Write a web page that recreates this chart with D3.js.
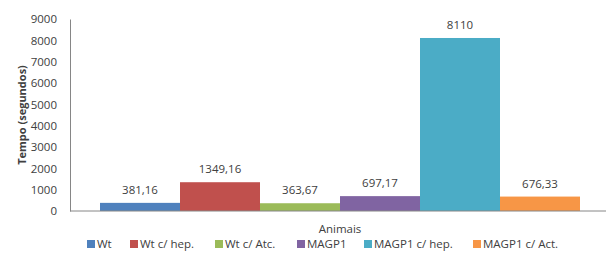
<!DOCTYPE html>
<html>
<head>
<meta charset="utf-8">
<script src="https://cdn.jsdelivr.net/npm/d3@7"></script>
<style>
  body { margin: 0; background: #fff; }
  text { font-family: "Open Sans", sans-serif; fill: #404040; }
</style>
</head>
<body>
<svg width="606" height="254"></svg>
<script>
// data
const series = ["Wt", "Wt c/ hep.", "Wt c/ Atc.", "MAGP1", "MAGP1 c/ hep.", "MAGP1 c/ Act."];
const values = [381.16, 1349.16, 363.67, 697.17, 8110, 676.33];
const valueLabels = ["381,16", "1349,16", "363,67", "697,17", "8110", "676,33"];
const yTicks = [0, 1000, 2000, 3000, 4000, 5000, 6000, 7000, 8000, 9000];
const colors = ["#4F81BD", "#C0504D", "#9BBB59", "#8064A2", "#4BACC6", "#F79646"];

const svg = d3.select("svg");
const margin = { left: 70, right: -4, top: 19, bottom: 43 };
const width = +svg.attr("width"), height = +svg.attr("height");
const plotW = width - margin.left - margin.right,
      plotH = height - margin.top - margin.bottom;

const g = svg.append("g").attr("transform", `translate(${margin.left},${margin.top})`);

const x = d3.scaleBand()
  .domain(series)
  .range([0, plotW])
  .paddingInner(0)
  .paddingOuter(0.375);

const y = d3.scaleLinear().domain([0, 9000]).range([plotH, 0]);

const color = d3.scaleOrdinal().domain(series).range(colors);

// y axis
const yAxis = g.append("g")
  .call(d3.axisLeft(y).tickValues(yTicks).tickSize(0).tickPadding(13).tickFormat(d3.format("d")));
yAxis.select(".domain").attr("stroke", "#868686");
yAxis.selectAll("text").style("font-size", "11.5px").attr("fill", "#404040");

// bars
g.selectAll("rect.bar")
  .data(values)
  .enter().append("rect")
  .attr("class", "bar")
  .attr("x", (d, i) => x(series[i]))
  .attr("width", x.bandwidth())
  .attr("y", d => y(d))
  .attr("height", d => plotH - y(d))
  .attr("fill", (d, i) => color(series[i]));

// x axis line
g.append("line")
  .attr("x1", 0).attr("x2", plotW)
  .attr("y1", plotH).attr("y2", plotH)
  .attr("stroke", "#868686");

// value labels
g.selectAll("text.val")
  .data(values)
  .enter().append("text")
  .attr("class", "val")
  .attr("x", (d, i) => x(series[i]) + x.bandwidth() / 2)
  .attr("y", d => y(d) - 9)
  .attr("text-anchor", "middle")
  .style("font-size", "11.5px")
  .text((d, i) => valueLabels[i]);

// axis titles
g.append("text")
  .attr("transform", `translate(-48,${plotH / 2}) rotate(-90)`)
  .attr("text-anchor", "middle")
  .attr("dy", "0.35em")
  .style("font-size", "11px")
  .style("font-weight", "bold")
  .text("Tempo (segundos)");

svg.append("text")
  .attr("x", 340)
  .attr("y", 233)
  .attr("text-anchor", "middle")
  .style("font-size", "11.5px")
  .text("Animais");

// legend
const legendX = [87, 130, 215, 297, 364, 473];
const legend = svg.selectAll("g.leg")
  .data(series)
  .enter().append("g")
  .attr("class", "leg")
  .attr("transform", (d, i) => `translate(${legendX[i]},240)`);
legend.append("rect")
  .attr("width", 8).attr("height", 8)
  .attr("fill", d => color(d));
legend.append("text")
  .attr("x", 10).attr("y", 4)
  .attr("dy", "0.35em")
  .style("font-size", "11.5px")
  .text(d => d);
</script>
</body>
</html>
